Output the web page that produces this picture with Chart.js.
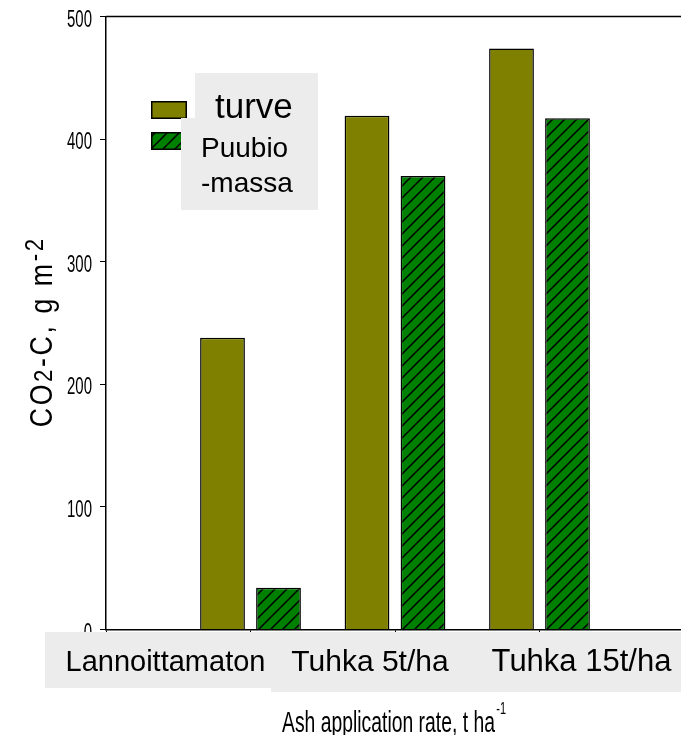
<!DOCTYPE html>
<html><head><meta charset="utf-8">
<script src="https://cdn.jsdelivr.net/npm/chart.js@4"></script>
<style>
html,body{margin:0;padding:0;overflow:hidden;background:#fff;width:681px;height:735px}
#wrap{position:absolute;left:0;top:0;width:690px;height:735px}
</style>
</head><body>
<div id="wrap"><canvas id="c" width="690" height="735"></canvas></div>
<script>
// ---- data ----
const categories = ['Lannoittamaton', 'Tuhka 5t/ha', 'Tuhka 15t/ha'];
const seriesNames = ['turve', 'Puubio', '-massa'];
const turve = [238, 419, 474];
const puubiomassa = [34, 370, 417];
const yTicks = [0, 100, 200, 300, 400, 500];
const yTitleParts = [['C','n'],['O','n'],['2','sub'],['-','n'],['C','n'],[',','n'],[' ','n'],['g','n'],[' ','n'],['m','n'],['-','sup'],['2','sup']];
const xTitle = 'Ash application rate, t ha';
const xTitleSup = '-1';

// ---- layout / style (not data) ----
const FONT = "'Liberation Sans', Arial, sans-serif";
const GRAY = '#ececec';
const catLabelLayout = [
  {cx: 165.5, size: 29},
  {cx: 370, size: 30},
  {cx: 581.5, size: 31}
];

const canvas = document.getElementById('c');
const ctx0 = canvas.getContext('2d');

function makeHatch() {
  const s = 12;
  const c = document.createElement('canvas'); c.width = s; c.height = s;
  const g = c.getContext('2d');
  g.fillStyle = '#008000'; g.fillRect(0, 0, s, s);
  g.strokeStyle = '#000'; g.lineWidth = 1.5; g.lineCap = 'square';
  g.beginPath();
  g.moveTo(0, s); g.lineTo(s, 0);
  g.moveTo(-s, s); g.lineTo(s, -s);
  g.moveTo(0, 2 * s); g.lineTo(2 * s, 0);
  g.stroke();
  return ctx0.createPattern(c, 'repeat');
}
const hatch = makeHatch();

const pad = arr => [null, ...arr, null];
const labels = ['', ...categories, ''];

const overlay = {
  id: 'overlay',
  afterDraw(chart) {
    const ctx = chart.ctx;
    const a = chart.chartArea;
    ctx.save();
    // top frame line
    ctx.strokeStyle = '#000'; ctx.lineWidth = 1.5;
    ctx.beginPath(); ctx.moveTo(a.left, a.top); ctx.lineTo(a.right, a.top); ctx.stroke();

    // y tick labels (condensed), from the library's y scale
    const ys = chart.scales.y;
    ctx.fillStyle = '#000';
    ctx.textAlign = 'right'; ctx.textBaseline = 'alphabetic';
    ys.ticks.forEach(t => {
      const py = ys.getPixelForValue(t.value);
      ctx.save();
      ctx.translate(92, py + 10);
      ctx.scale(0.65, 1);
      ctx.font = '23px ' + FONT;
      ctx.fillText(String(t.value), 0, 0);
      ctx.restore();
    });

    // category label boxes
    ctx.fillStyle = GRAY;
    ctx.fillRect(45, 632, 227, 56);
    ctx.fillRect(271, 632, 420, 60);
    ctx.fillStyle = '#000';
    ctx.textAlign = 'center'; ctx.textBaseline = 'alphabetic';
    categories.forEach((c, i) => {
      const L = catLabelLayout[i];
      ctx.font = L.size + 'px ' + FONT;
      ctx.fillText(c, L.cx, 671);
    });

    // legend swatches
    const ds = chart.data.datasets;
    [[151, 101], [151, 132]].forEach((p, i) => {
      ctx.fillStyle = ds[i].backgroundColor;
      ctx.fillRect(p[0], p[1], 36, 18);
      ctx.strokeStyle = '#000'; ctx.lineWidth = 1.5;
      ctx.strokeRect(p[0] + 0.75, p[1] + 0.75, 34.5, 16.5);
    });
    ctx.fillStyle = GRAY;
    ctx.fillRect(195, 73, 123, 45);
    ctx.fillRect(181, 118, 137, 92);
    ctx.fillStyle = '#000'; ctx.textAlign = 'left';
    ctx.font = '35px ' + FONT;
    ctx.fillText(seriesNames[0], 215, 118);
    ctx.font = '28px ' + FONT;
    ctx.fillText(seriesNames[1], 201, 157);
    ctx.fillText(seriesNames[2], 201, 192);

    // y title (rotated, slightly condensed, letter spaced)
    ctx.save();
    ctx.translate(52, 333);
    ctx.rotate(-Math.PI / 2);
    const sx = 0.86, spacing = 2.6;
    const sizeOf = k => k === 'n' ? 31 : 26;
    const dyOf = k => k === 'sub' ? 0 : (k === 'sup' ? -9 : 0);
    const widths = yTitleParts.map(([t, k]) => {
      ctx.font = sizeOf(k) + 'px ' + FONT;
      return ctx.measureText(t).width * sx;
    });
    const total = widths.reduce((s, w) => s + w, 0) + spacing * (widths.length - 1);
    let u = -total / 2;
    yTitleParts.forEach(([t, k], i) => {
      ctx.font = sizeOf(k) + 'px ' + FONT;
      ctx.save();
      ctx.translate(u, dyOf(k));
      ctx.scale(sx, 1);
      ctx.fillText(t, 0, 0);
      ctx.restore();
      u += widths[i] + spacing;
    });
    ctx.restore();

    // x title (condensed)
    ctx.save();
    ctx.translate(282, 732);
    ctx.scale(0.645, 1);
    ctx.font = '30px ' + FONT;
    ctx.textAlign = 'left';
    ctx.fillText(xTitle, 0, 0);
    const w = ctx.measureText(xTitle).width;
    ctx.font = '17px ' + FONT;
    ctx.fillText(xTitleSup, w + 2, -18);
    ctx.restore();

    ctx.restore();
  }
};

new Chart(canvas, {
  type: 'bar',
  data: {
    labels: labels,
    datasets: [
      {label: seriesNames[0], data: pad(turve), backgroundColor: '#808000', borderColor: '#000', borderWidth: 1.5,
       categoryPercentage: 0.775, barPercentage: 0.8},
      {label: seriesNames[1] + seriesNames[2], data: pad(puubiomassa), backgroundColor: hatch, borderColor: '#000', borderWidth: 1.5,
       categoryPercentage: 0.775, barPercentage: 0.8}
    ]
  },
  options: {
    responsive: false, animation: false, devicePixelRatio: 1,
    layout: {padding: {left: 0, right: 6, top: 16.5, bottom: 0}},
    plugins: {legend: {display: false}, tooltip: {enabled: false}},
    scales: {
      x: {
        offset: false,
        grid: {display: true, offset: false, drawOnChartArea: false, drawTicks: true, tickLength: 4, tickColor: '#000', tickWidth: 1},
        border: {color: '#000', width: 1.5},
        ticks: {display: false},
        afterFit(s) { s.height = 105.5; }
      },
      y: {
        min: 0, max: 500,
        afterBuildTicks(s) { s.ticks = yTicks.map(v => ({value: v})); },
        ticks: {display: false},
        grid: {drawOnChartArea: false, drawTicks: true, tickLength: 6, tickColor: '#000', tickWidth: 1},
        border: {color: '#000', width: 1.5},
        afterFit(s) { s.width = 106; }
      }
    }
  },
  plugins: [overlay]
});
</script>
</body></html>
